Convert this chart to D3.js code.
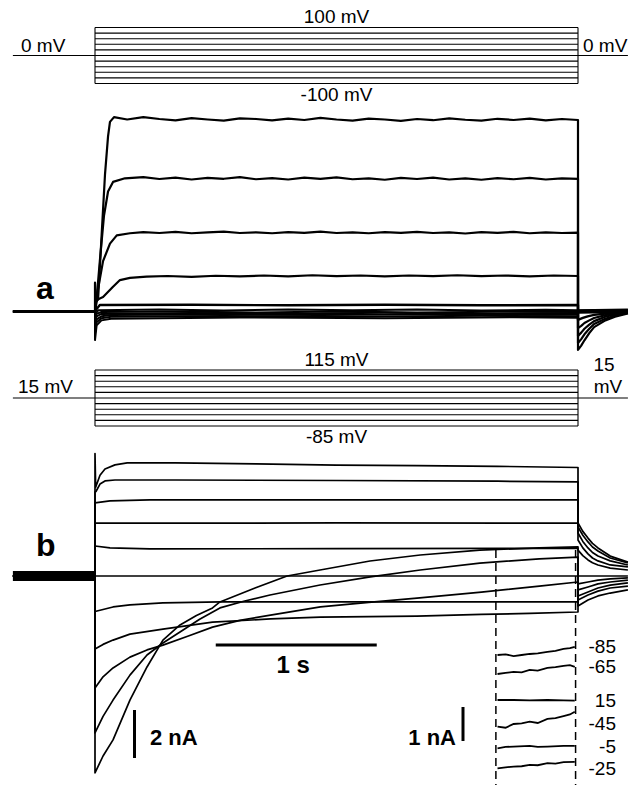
<!DOCTYPE html>
<html><head><meta charset="utf-8">
<script src="https://cdn.jsdelivr.net/npm/d3@7"></script>
<style>body{margin:0;background:#fff}svg{display:block}text{font-family:"Liberation Sans",Arial,sans-serif;fill:#000}</style>
</head><body>
<svg id="fig" width="644" height="785"></svg>
<script>
// ================= DATA =================
// voltage protocols (mV)
const stepsA = [100, 80, 60, 40, 20, 0, -20, -40, -60, -80, -100];
const holdA = 0;
const stepsB = [115, 95, 75, 55, 35, 15, -5, -25, -45, -65, -85];
const holdB = 15;
// timing (s)
const tStep = [0, 3];
const tRange = [-0.51, 3.31];
const insetWindow = [2.49, 2.985];

// ---- panel a currents [t (s), I (nA)] ----
const iA_p100 = [[-0.51,0],[0,0],[0,1.2],[0.006,0.4],[0.019,0.5],[0.043,3.4],[0.062,5.7],[0.081,7.3],[0.093,7.9],[0.118,8.1],[0.2,8.0],[0.3,8.1],[0.4,8.02],[0.5,7.96],[0.6,8.06],[0.7,8.0],[0.8,7.95],[0.9,8.05],[1.0,8.02],[1.1,7.96],[1.2,8.04],[1.3,7.98],[1.4,8.07],[1.5,8.0],[1.6,7.95],[1.7,8.04],[1.8,8.0],[1.9,7.94],[2.0,8.02],[2.1,7.97],[2.2,8.05],[2.3,7.99],[2.4,7.95],[2.5,8.03],[2.6,7.98],[2.7,8.04],[2.8,7.96],[2.9,8.02],[3.0,7.98],[3.0,-1.6],[3.02,-1.42],[3.04,-1.2],[3.07,-0.9],[3.1,-0.65],[3.17,-0.37],[3.23,-0.22],[3.31,-0.08]];
const iA_p80 = [[-0.51,0],[0,0],[0.006,0.2],[0.03,2.1],[0.056,4.0],[0.081,5.0],[0.112,5.4],[0.186,5.55],[0.3,5.6],[0.4,5.52],[0.5,5.58],[0.6,5.5],[0.7,5.57],[0.8,5.53],[0.9,5.6],[1.0,5.51],[1.1,5.56],[1.2,5.5],[1.3,5.58],[1.4,5.53],[1.5,5.59],[1.6,5.51],[1.7,5.55],[1.8,5.49],[1.9,5.57],[2.0,5.52],[2.1,5.58],[2.2,5.5],[2.3,5.55],[2.4,5.49],[2.5,5.56],[2.6,5.51],[2.7,5.57],[2.8,5.5],[2.9,5.55],[3.0,5.53],[3.0,-1.31],[3.02,-1.15],[3.04,-0.95],[3.07,-0.72],[3.1,-0.52],[3.17,-0.3],[3.23,-0.17],[3.31,-0.06]];
const iA_p60 = [[-0.51,0],[0,0],[0.01,0.6],[0.05,2.1],[0.093,2.83],[0.135,3.17],[0.217,3.26],[0.3,3.31],[0.4,3.27],[0.5,3.32],[0.6,3.26],[0.7,3.3],[0.8,3.33],[0.9,3.27],[1.0,3.3],[1.1,3.26],[1.2,3.31],[1.3,3.28],[1.4,3.33],[1.5,3.27],[1.6,3.3],[1.7,3.26],[1.8,3.31],[1.9,3.28],[2.0,3.32],[2.1,3.27],[2.2,3.3],[2.3,3.25],[2.4,3.31],[2.5,3.28],[2.6,3.32],[2.7,3.26],[2.8,3.3],[2.9,3.27],[3.0,3.29],[3.0,-1.02],[3.02,-0.88],[3.04,-0.72],[3.07,-0.55],[3.1,-0.4],[3.17,-0.22],[3.23,-0.12],[3.31,-0.04]];
const iA_p40 = [[-0.51,0],[0,0],[0.01,0.48],[0.05,0.6],[0.112,1.03],[0.155,1.31],[0.217,1.4],[0.32,1.45],[0.45,1.48],[0.6,1.44],[0.75,1.49],[0.9,1.46],[1.05,1.5],[1.2,1.46],[1.35,1.51],[1.5,1.47],[1.65,1.5],[1.8,1.46],[1.95,1.5],[2.1,1.47],[2.25,1.51],[2.4,1.47],[2.55,1.5],[2.7,1.46],[2.85,1.5],[3.0,1.48],[3.0,-0.69],[3.02,-0.6],[3.04,-0.48],[3.07,-0.37],[3.1,-0.27],[3.17,-0.15],[3.23,-0.08],[3.31,-0.03]];
const iA_p20 = [[-0.51,0],[0,0],[0.01,0.1],[0.03,0.27],[0.6,0.28],[1.2,0.26],[1.8,0.28],[2.4,0.26],[3.0,0.27],[3.0,-0.35],[3.03,-0.27],[3.06,-0.2],[3.1,-0.14],[3.2,-0.06],[3.31,-0.02]];
const iA_0 = [[-0.51,0],[0,0],[0,-0.12],[0.02,0.05],[0.4,0.08],[0.8,0.04],[1.2,0.08],[1.6,0.05],[2.0,0.08],[2.4,0.04],[2.8,0.07],[3.0,0.05],[3.31,0.08]];
const iA_m20 = [[0,0],[0,-0.27],[0.01,-0.1],[0.04,-0.02],[0.5,0.0],[1.0,-0.04],[1.5,0.0],[2.0,-0.04],[2.5,-0.01],[3.0,-0.02],[3.0,0.04],[3.31,0.06]];
const iA_m40 = [[0,0],[0,-0.44],[0.01,-0.2],[0.04,-0.1],[0.6,-0.06],[1.2,-0.09],[1.8,-0.05],[2.4,-0.09],[3.0,-0.06],[3.0,0.02],[3.31,0.04]];
const iA_m60 = [[0,0],[0,-0.65],[0.01,-0.33],[0.04,-0.2],[0.1,-0.15],[0.7,-0.12],[1.4,-0.15],[2.1,-0.11],[2.8,-0.14],[3.0,-0.13],[3.0,0.0],[3.31,0.02]];
const iA_m80 = [[0,0],[0,-0.9],[0.01,-0.45],[0.04,-0.28],[0.1,-0.22],[0.8,-0.19],[1.6,-0.22],[2.4,-0.18],[3.0,-0.2],[3.0,-0.02],[3.31,0.0]];
const iA_m100 = [[0,0],[0,-1.19],[0.01,-0.58],[0.04,-0.37],[0.1,-0.3],[0.9,-0.25],[1.8,-0.28],[2.6,-0.24],[3.0,-0.26],[3.0,-0.05],[3.31,-0.02]];

// ---- panel b currents [t (s), I (nA)] ----
const iB_115 = [[-0.51,0],[0,0],[0,5.1],[0.004,3.7],[0.031,4.2],[0.062,4.46],[0.124,4.63],[0.2,4.71],[0.5,4.71],[1.0,4.67],[1.5,4.62],[2.0,4.6],[2.5,4.57],[3.0,4.52],[3.0,2.21],[3.03,1.86],[3.062,1.58],[3.09,1.36],[3.124,1.17],[3.2,0.83],[3.31,0.58]];
const iB_95 = [[-0.51,0],[0,0],[0,3.5],[0.006,3.52],[0.031,3.83],[0.062,3.96],[0.124,4.0],[0.5,4.0],[1.5,3.98],[2.5,3.95],[3.0,3.92],[3.0,2.04],[3.03,1.7],[3.062,1.42],[3.09,1.21],[3.124,1.04],[3.2,0.75],[3.31,0.54]];
const iB_75 = [[-0.51,0],[0,0],[0,3.05],[0.093,3.13],[0.34,3.17],[1.5,3.17],[3.0,3.17],[3.0,1.79],[3.03,1.44],[3.062,1.17],[3.09,0.98],[3.124,0.83],[3.2,0.63],[3.31,0.46]];
const iB_55 = [[-0.51,0],[0,0],[0,2.2],[1.5,2.21],[3.0,2.2],[3.0,1.5],[3.03,1.17],[3.062,0.92],[3.09,0.75],[3.124,0.63],[3.2,0.46],[3.31,0.38]];
const iB_35 = [[-0.51,0],[0,0],[0,1.25],[0.093,1.17],[0.34,1.13],[1.5,1.14],[3.0,1.15],[3.0,1.08],[3.03,0.85],[3.062,0.67],[3.09,0.55],[3.124,0.46],[3.2,0.33],[3.31,0.25]];
const iB_15 = [[-0.51,0],[3.31,0]];
const iB_m5 = [[-0.51,0],[0,0],[0,-1.48],[0.112,-1.29],[0.217,-1.2],[0.422,-1.12],[0.78,-1.08],[1.8,-1.08],[3.0,-1.08],[3.0,-0.33],[3.062,-0.25],[3.124,-0.17],[3.2,-0.12],[3.31,-0.08]];
const iB_m25 = [[-0.51,0],[0,0],[0,-3.04],[0.05,-2.85],[0.112,-2.67],[0.217,-2.42],[0.422,-2.21],[0.73,-1.92],[1.09,-1.79],[1.4,-1.71],[2.0,-1.67],[2.4,-1.6],[2.7,-1.56],[3.0,-1.5],[3.0,-0.58],[3.062,-0.46],[3.124,-0.33],[3.2,-0.25],[3.31,-0.17]];
const iB_m45 = [[-0.51,0],[0,0],[0,-4.67],[0.05,-4.2],[0.112,-3.83],[0.217,-3.38],[0.323,-3.08],[0.422,-2.88],[0.58,-2.5],[0.73,-2.13],[0.9,-1.85],[1.09,-1.63],[1.4,-1.29],[1.7,-1.1],[2.0,-0.92],[2.4,-0.67],[2.76,-0.42],[3.0,-0.25],[3.0,-0.83],[3.062,-0.67],[3.124,-0.5],[3.2,-0.38],[3.31,-0.29]];
const iB_m65 = [[-0.51,0],[0,0],[0,-6.54],[0.05,-5.85],[0.112,-5.17],[0.217,-4.13],[0.323,-3.29],[0.422,-2.79],[0.528,-2.33],[0.65,-1.8],[0.776,-1.33],[0.93,-1.04],[1.087,-0.79],[1.398,-0.375],[1.71,-0.04],[2.02,0.25],[2.39,0.54],[2.76,0.71],[3.0,0.79],[3.0,-1.0],[3.062,-0.79],[3.124,-0.63],[3.2,-0.5],[3.31,-0.42]];
const iB_m85 = [[-0.51,0],[0,0],[0,-8.2],[0.05,-7.5],[0.112,-6.83],[0.217,-5.17],[0.323,-3.79],[0.422,-2.67],[0.528,-2.04],[0.63,-1.65],[0.73,-1.33],[0.776,-1.08],[0.963,-0.58],[1.193,0.0],[1.398,0.25],[1.708,0.625],[2.02,0.875],[2.39,1.08],[2.76,1.17],[3.0,1.21],[3.0,-1.25],[3.062,-1.0],[3.124,-0.83],[3.2,-0.71],[3.31,-0.58]];

// ---- inset: expanded traces in the dashed window, [t (s), change in I (nA)] ----
const insetLabels = ["-85", "-65", "15", "-45", "-5", "-25"];
const ins_m85 = [[2.5,0],[2.55,0.02],[2.6,-0.03],[2.65,0.0],[2.7,0.03],[2.75,0.05],[2.81,0.09],[2.86,0.12],[2.91,0.18],[2.95,0.2],[2.98,0.24]];
const ins_m65 = [[2.5,0],[2.55,0.03],[2.6,0.06],[2.65,0.05],[2.7,0.12],[2.75,0.1],[2.81,0.18],[2.86,0.2],[2.91,0.24],[2.95,0.26],[2.98,0.21]];
const ins_15 = [[2.5,0],[2.6,0.0],[2.7,-0.01],[2.81,0.0],[2.91,-0.01],[2.98,-0.02]];
const ins_m45 = [[2.5,0],[2.55,-0.03],[2.6,0.08],[2.65,0.1],[2.7,0.15],[2.75,0.11],[2.81,0.23],[2.86,0.25],[2.91,0.31],[2.95,0.36],[2.98,0.44]];
const ins_m5 = [[2.5,0],[2.55,0.04],[2.6,0.05],[2.7,0.07],[2.75,0.04],[2.81,0.05],[2.91,0.07],[2.98,0.07]];
const ins_m25 = [[2.5,0],[2.55,0.03],[2.6,0.05],[2.65,0.06],[2.7,0.1],[2.75,0.09],[2.81,0.15],[2.86,0.14],[2.91,0.18],[2.98,0.19]];

// scale bars
const barTime = 1;     // s
const barAmp = 2;      // nA (main)
const barAmpInset = 1; // nA (inset)

// ================= DRAWING =================
const svg = d3.select("#fig");
const x = d3.scaleLinear().domain(tStep).range([95, 578]);
const vA = d3.scaleLinear().domain([-100, 100]).range([83.5, 27.5]);
const vB = d3.scaleLinear().domain([-85, 115]).range([426, 370]);
const yA = d3.scaleLinear().domain([0, 1]).range([311.5, 287.5]);
const yB = d3.scaleLinear().domain([0, 1]).range([576, 552]);
const yIns = d3.scaleLinear().domain([0, 1]).range([0, -34]);

function protocol(steps, hold, v) {
  const g = svg.append("g").attr("stroke", "#000").attr("stroke-width", 1.1).attr("fill", "none");
  steps.forEach(s => g.append("line").attr("x1", x(tStep[0])).attr("x2", x(tStep[1])).attr("y1", v(s)).attr("y2", v(s)));
  const top = v(d3.max(steps)), bot = v(d3.min(steps));
  [tStep[0], tStep[1]].forEach(t => g.append("line").attr("x1", x(t)).attr("x2", x(t)).attr("y1", top).attr("y2", bot));
  g.append("line").attr("x1", x(tRange[0])).attr("x2", x(tStep[0])).attr("y1", v(hold)).attr("y2", v(hold));
  g.append("line").attr("x1", x(tStep[1])).attr("x2", x(tRange[1])).attr("y1", v(hold)).attr("y2", v(hold));
}
protocol(stepsA, holdA, vA);
protocol(stepsB, holdB, vB);

function traces(list, ys, w) {
  const line = d3.line().x(d => x(d[0])).y(d => ys(d[1]));
  svg.append("g").selectAll("path").data(list).join("path")
    .attr("d", line).attr("fill", "none").attr("stroke", "#000")
    .attr("stroke-width", w).attr("stroke-linejoin", "round");
}
traces([iA_p100, iA_p80, iA_p60, iA_p40], yA, 2.2);
traces([iA_p20], yA, 2.4);
traces([iA_0, iA_m20, iA_m40, iA_m60, iA_m80, iA_m100], yA, 2.0);
// thick pre-step baseline of panel b (all traces superimposed)
svg.append("line").attr("x1", x(tRange[0])).attr("x2", x(0)).attr("y1", yB(0)).attr("y2", yB(0))
  .attr("stroke", "#000").attr("stroke-width", 10);
traces([iB_115, iB_95, iB_75, iB_55, iB_35, iB_15, iB_m5, iB_m25, iB_m45, iB_m65, iB_m85], yB, 1.7);

// dashed window
const dashTop = 550, dashBot = 785;
insetWindow.forEach(t => svg.append("line").attr("x1", x(t)).attr("x2", x(t)).attr("y1", dashTop).attr("y2", dashBot)
  .attr("stroke", "#000").attr("stroke-width", 1.5).attr("stroke-dasharray", "8,5"));

// inset traces (layout rows)
const insetRows = [655, 674, 700, 726.7, 748.3, 768.3];
const insetLabelY = [653, 673, 707, 730, 753, 775];
const insetData = [ins_m85, ins_m65, ins_15, ins_m45, ins_m5, ins_m25];
insetData.forEach((d, i) => {
  const line = d3.line().x(p => x(p[0])).y(p => insetRows[i] + yIns(p[1]));
  svg.append("path").attr("d", line(d)).attr("fill", "none").attr("stroke", "#000").attr("stroke-width", 1.8);
  svg.append("text").attr("x", 616).attr("y", insetLabelY[i]).attr("text-anchor", "end")
    .attr("font-size", 19).text(insetLabels[i]);
});

// scale bars
const bar = (x1, y1, x2, y2) => svg.append("line").attr("x1", x1).attr("y1", y1).attr("x2", x2).attr("y2", y2)
  .attr("stroke", "#000").attr("stroke-width", 3);
const barY = 645;
bar(x(0.75), barY, x(0.75 + barTime), barY);
svg.append("text").attr("x", x(0.75 + barTime / 2) - 3).attr("y", 673).attr("text-anchor", "middle")
  .attr("font-size", 24).attr("font-weight", "bold").text(barTime + " s");
const ampLen = yB(0) - yB(barAmp);
bar(134.5, 758 - ampLen, 134.5, 758);
svg.append("text").attr("x", 150).attr("y", 745).attr("font-size", 22).attr("font-weight", "bold").text(barAmp + " nA");
const insLen = -yIns(barAmpInset);
bar(463, 741 - insLen, 463, 741);
svg.append("text").attr("x", 456).attr("y", 745).attr("text-anchor", "end").attr("font-size", 22).attr("font-weight", "bold").text(barAmpInset + " nA");

// protocol labels
const mid = (x(tStep[0]) + x(tStep[1])) / 2;
const label = (t, xx, yy, anchor, size, weight) => svg.append("text").attr("x", xx).attr("y", yy)
  .attr("text-anchor", anchor || "start").attr("font-size", size || 19).attr("font-weight", weight || "normal").text(t);
label(d3.max(stepsA) + " mV", mid, vA(d3.max(stepsA)) - 5, "middle");
label(d3.min(stepsA) + " mV", mid, vA(d3.min(stepsA)) + 17, "middle");
label(holdA + " mV", 21, vA(holdA) - 4);
label(holdA + " mV", 583, vA(holdA) - 4);
label(d3.max(stepsB) + " mV", mid, vB(d3.max(stepsB)) - 4, "middle");
label(d3.min(stepsB) + " mV", mid, vB(d3.min(stepsB)) + 17, "middle");
label(holdB + " mV", 18, vB(holdB) - 5);
label(String(holdB), 604, vB(holdB) - 27, "middle");
label("mV", 608, vB(holdB) - 5, "middle");

// panel letters
label("a", 36, 299, "start", 32, "bold");
label("b", 36, 556, "start", 32, "bold");
</script>
</body></html>
